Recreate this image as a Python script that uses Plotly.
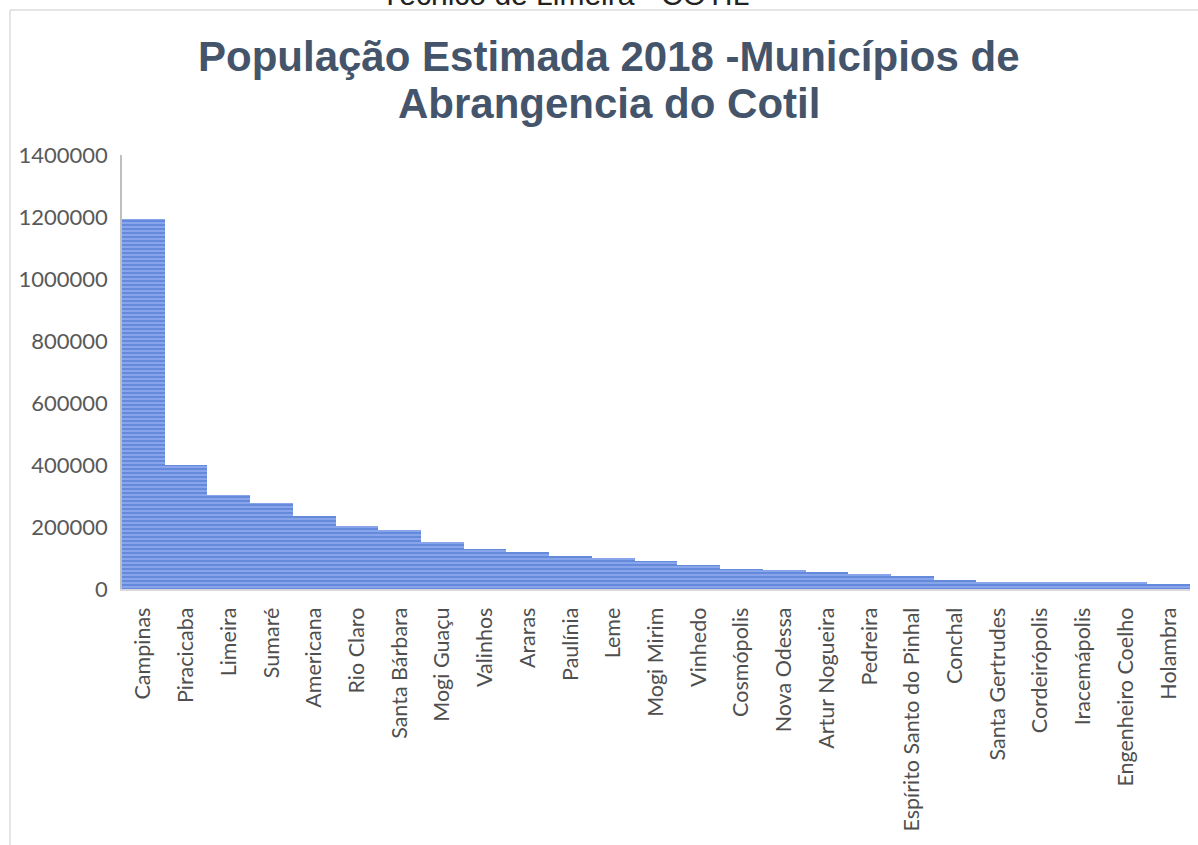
import plotly.graph_objects as go

municipios = ["Campinas", "Piracicaba", "Limeira", "Sumaré", "Americana", "Rio Claro",
              "Santa Bárbara", "Mogi Guaçu", "Valinhos", "Araras", "Paulínia", "Leme",
              "Mogi Mirim", "Vinhedo", "Cosmópolis", "Nova Odessa", "Artur Nogueira",
              "Pedreira", "Espírito Santo do Pinhal", "Conchal", "Santa Gertrudes",
              "Cordeirópolis", "Iracemápolis", "Engenheiro Coelho", "Holambra"]
populacao = [1194000, 401000, 302000, 276000, 235000, 204000,
             191000, 151000, 128000, 119000, 106000, 101000,
             91000, 78000, 66000, 60000, 54000,
             47000, 42000, 28000, 24000,
             23500, 23000, 21000, 15000]
y_ticks = [0, 200000, 400000, 600000, 800000, 1000000, 1200000, 1400000]

W, H = 1198, 845
ML, MR, MT, MB = 122, 8, 155, 256
pw, ph = W - ML - MR, H - MT - MB

def px_x(X):
    return (X - ML) / pw

def px_y(Y):
    return (H - MB - Y) / ph

fig = go.Figure()
fig.add_trace(go.Bar(
    x=municipios, y=populacao,
    marker=dict(color="#88a4ea",
                line=dict(width=0),
                pattern=dict(shape="-", fgcolor="#4470cc", size=4, solidity=0.5)),
    hoverinfo="x+y",
))

grey = "#4f4f4f"
fig.update_layout(
    width=W, height=H,
    margin=dict(l=ML, r=MR, t=MT, b=MB, pad=0),
    paper_bgcolor="white", plot_bgcolor="white",
    bargap=0,
    showlegend=False,
    font=dict(family="Lato, Open Sans, sans-serif", color=grey),
    xaxis=dict(showgrid=False, showline=True, linecolor="#d9d9d9", linewidth=2,
               ticks="", tickangle=-90, tickfont=dict(size=21.5, color=grey,
               family="Lato, sans-serif"), ticklabelstandoff=8, fixedrange=True),
    yaxis=dict(range=[0, 1400000], tickvals=y_ticks, ticktext=[str(v) for v in y_ticks],
               showgrid=False, zeroline=False, showline=True, linecolor="#bfbfbf",
               linewidth=1.5, ticks="", tickfont=dict(size=22, color="#595959",
               family="Lato, sans-serif"), ticklabelstandoff=8, fixedrange=True),
)

title_font = dict(family="Liberation Sans, Arial, sans-serif", size=42, color="#44546A")
fig.add_annotation(text="<b>População Estimada 2018 -Municípios de</b>", xref="paper", yref="paper",
                   x=px_x(609), y=px_y(57), xanchor="center", yanchor="middle",
                   showarrow=False, font=title_font)
fig.add_annotation(text="<b>Abrangencia do Cotil</b>", xref="paper", yref="paper",
                   x=px_x(609), y=px_y(103), xanchor="center", yanchor="middle",
                   showarrow=False, font=title_font)
fig.add_annotation(text="Técnico de Limeira - COTIL", xref="paper", yref="paper",
                   x=px_x(565), y=px_y(-6), xanchor="center", yanchor="middle",
                   showarrow=False,
                   font=dict(family="Liberation Sans, Arial, sans-serif", size=30, color="#222222"))

# frame of the chart box
fig.add_shape(type="line", xref="paper", yref="paper", x0=px_x(10), x1=px_x(1200),
              y0=px_y(10), y1=px_y(10), line=dict(color="#dcdcdc", width=1.5))
fig.add_shape(type="line", xref="paper", yref="paper", x0=px_x(10), x1=px_x(10),
              y0=px_y(10), y1=px_y(850), line=dict(color="#dcdcdc", width=1.5))

fig.write_html("out.html", config={"displayModeBar": False},
               post_script="document.body.style.margin='0';document.body.style.overflow='hidden';")
